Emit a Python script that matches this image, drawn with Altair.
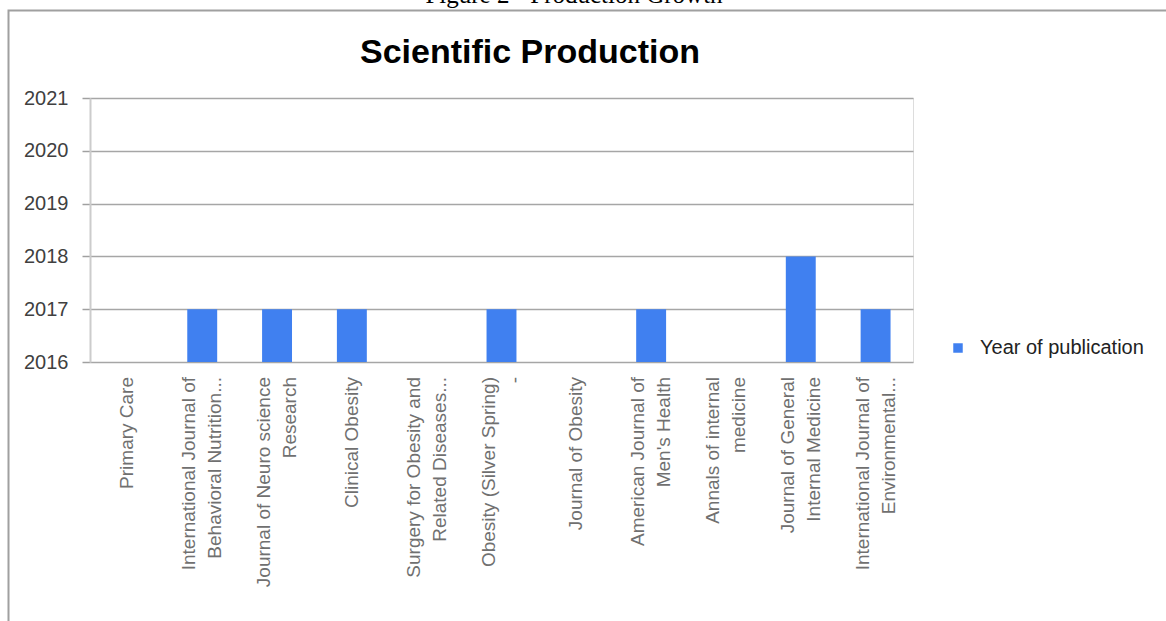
import altair as alt
import pandas as pd

# ---- data ----
journals = [
    "Primary Care",
    "International Journal of\nBehavioral Nutrition...",
    "Journal of Neuro science\nResearch",
    "Clinical Obesity",
    "Surgery for Obesity and\nRelated Diseases...",
    "Obesity (Silver Spring)\n-",
    "Journal of Obesity",
    "American Journal of\nMen's Health",
    "Annals of internal\nmedicine",
    "Journal of General\nInternal Medicine",
    "International Journal of\nEnvironmental...",
]
years = [None, 2017, 2017, 2017, None, 2017, None, 2017, None, 2018, 2017]
series_name = "Year of publication"
y_ticks = [2016, 2017, 2018, 2019, 2020, 2021]
chart_title = "Scientific Production"
caption = "Figure 2 - Production Growth"

df = pd.DataFrame({
    "journal": journals,
    "year": years,
    "series": [series_name] * len(journals),
})

W, H = 823, 264
PL, PT = 90, 98
BLUE = "#4080f0"
FONT = "Liberation Sans"
LINE_H = 26
LABEL_SIZE = 19
LABEL_COLOR = "#707070"

x_enc_axis = alt.X(
    "journal:N",
    sort=journals,
    scale=alt.Scale(domain=journals, paddingInner=0, paddingOuter=0),
    axis=alt.Axis(
        title=None,
        labels=False,
        tickBand="extent",
        tickSize=6,
        tickColor="#a8a8a8",
        tickWidth=1.5,
        domainColor="#a8a8a8",
        domainWidth=1.5,
        grid=False,
    ),
)

bars = alt.Chart(df).mark_bar(width=alt.RelativeBandSize(0.4), color=BLUE).encode(
    x=x_enc_axis,
    y=alt.Y(
        "year:Q",
        scale=alt.Scale(domain=[2016, 2021], zero=False, nice=False),
        axis=alt.Axis(
            title=None,
            values=y_ticks,
            format="d",
            labelFontSize=20,
            labelColor="#404040",
            labelFont=FONT,
            labelPadding=14,
            tickSize=8,
            tickColor="#a0a0a0",
            tickWidth=1.5,
            domainColor="#cccccc",
            domainWidth=2,
            grid=True,
            gridColor="#a6a6a6",
            gridWidth=1.5,
        ),
    ),
    y2=alt.datum(2016),
    color=alt.Color(
        "series:N",
        scale=alt.Scale(range=[BLUE]),
        legend=alt.Legend(
            title=None,
            orient="none",
            legendX=858,
            legendY=240,
            padding=0,
            symbolType="square",
            symbolSize=90,
            symbolStrokeWidth=0,
            labelFontSize=20,
            labelFont=FONT,
            labelColor="#222222",
            labelOffset=12,
            labelLimit=0,
        ),
    ),
)


def label_layer(test, shift):
    return alt.Chart(df).transform_filter(test).mark_text(
        angle=270,
        align="right",
        baseline="middle",
        lineBreak="\n",
        lineHeight=LINE_H,
        fontSize=LABEL_SIZE,
        font=FONT,
        color=LABEL_COLOR,
        dy=shift,
    ).encode(
        x=alt.X("journal:N", sort=journals, axis=None),
        y=alt.value(H + 15),
        text="journal:N",
    )


labels_one = label_layer("indexof(datum.journal, '\\n') < 0", 0)
labels_two = label_layer("indexof(datum.journal, '\\n') >= 0", -LINE_H / 2)

one = alt.Data(values=[{}])

frame = alt.Chart(one).mark_rect(
    filled=False, stroke="#a0a0a0", strokeWidth=2
).encode(
    x=alt.value(-81.5), x2=alt.value(1200), y=alt.value(-87.5), y2=alt.value(700)
)

cap = alt.Chart(one).mark_text(
    font="Liberation Serif", fontSize=25, align="center", baseline="alphabetic", color="#000000"
).encode(
    text=alt.value(caption), x=alt.value(484), y=alt.value(-95)
)

ttl = alt.Chart(one).mark_text(
    font=FONT, fontSize=34, fontWeight="bold", align="center", baseline="alphabetic", color="#000000"
).encode(
    text=alt.value(chart_title), x=alt.value(440), y=alt.value(-35)
)

chart = alt.layer(frame, cap, ttl, bars, labels_one, labels_two).properties(
    width=W,
    height=H,
    padding={"left": PL, "top": PT, "right": 1166 - PL - W, "bottom": 621 - PT - H},
    autosize=alt.AutoSizeParams(type="none"),
).configure_view(stroke=None).configure(background="#ffffff")

chart.save("out.html", embed_options={"renderer": "svg", "actions": False})
